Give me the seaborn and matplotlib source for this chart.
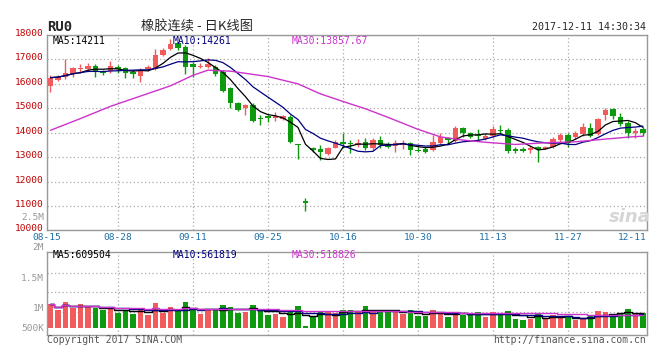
import matplotlib
matplotlib.use("Agg")
import matplotlib.pyplot as plt
import matplotlib.transforms as mtransforms
import numpy as np
import pandas as pd
import seaborn as sns

# trading days 2017-08-15 .. 2017-12-11 (national day holiday removed)
days = pd.bdate_range("2017-08-15", "2017-12-11")
days = days[(days < "2017-10-02") | (days > "2017-10-06")]
dates = [d.strftime("%m-%d") for d in days]

opens = [15930, 16160, 16300, 16390, 16600, 16600, 16750, 16530, 16530, 16700,
         16640, 16500, 16320, 16600, 16600, 17180, 17430, 17660, 17520, 16800,
         16680, 16700, 16705, 16500, 15820, 15210, 15030, 15140, 14620, 14690,
         14590, 14580, 14660, 13530, 11220, 13370, 13340, 13120, 13390, 13640,
         13600, 13500, 13640, 13360, 13710, 13500, 13460, 13500, 13600, 13300,
         13320, 13300, 13570, 13770, 13680, 14180, 13980, 13910, 13730, 13870,
         14110, 14110, 13320, 13320, 13300, 13400, 13350, 13410, 13700, 13910,
         13810, 13950, 14180, 13950, 14730, 14970, 14630, 14390, 14000, 14140]
highs = [16365, 16380, 17020, 16700, 16800, 16840, 16800, 16570, 16940, 16770,
         16700, 16570, 16640, 16770, 17430, 17450, 17850, 17720, 17600, 16910,
         16840, 17050, 16770, 16560, 15860, 15270, 15170, 15210, 14730, 14730,
         14840, 14730, 14730, 13530, 11320, 13430, 13500, 13430, 13700, 13980,
         13710, 13730, 13770, 13770, 13870, 13640, 13700, 13700, 13640, 13430,
         13400, 13910, 13980, 13840, 14280, 14250, 14050, 14140, 13980, 14280,
         14320, 14180, 13400, 13400, 13460, 13460, 13460, 13840, 14000, 13980,
         14090, 14390, 14390, 14620, 15000, 15000, 14800, 14460, 14180, 14220]
lows = [15655, 16120, 16200, 16300, 16430, 16530, 16300, 16360, 16430, 16430,
        16230, 16230, 16090, 16530, 16570, 17150, 17390, 17390, 16400, 16300,
        16640, 16640, 16340, 15670, 15030, 14890, 14730, 14430, 14320, 14430,
        14490, 14540, 13600, 12930, 10780, 13230, 12890, 13090, 13370, 13360,
        13160, 13430, 13300, 13300, 13360, 13360, 13230, 13320, 13090, 13230,
        13160, 13270, 13540, 13540, 13640, 13840, 13770, 13710, 13710, 13770,
        14000, 13190, 13190, 13230, 13160, 12820, 13320, 13360, 13640, 13410,
        13730, 13870, 13840, 13910, 14520, 14550, 14280, 13770, 13770, 13870]
closes = [16255, 16300, 16460, 16640, 16640, 16750, 16530, 16430, 16750, 16600,
          16430, 16390, 16570, 16670, 17180, 17390, 17620, 17450, 16700, 16680,
          16750, 16800, 16390, 15710, 15210, 14930, 15140, 14480, 14560, 14590,
          14690, 14700, 13610, 13500, 11140, 13300, 13200, 13390, 13610, 13540,
          13540, 13600, 13360, 13710, 13500, 13430, 13570, 13600, 13300, 13260,
          13230, 13640, 13840, 13700, 14180, 13980, 13840, 13880, 13870, 14140,
          14070, 13270, 13270, 13270, 13360, 13320, 13430, 13730, 13910, 13600,
          14000, 14250, 13870, 14550, 14930, 14700, 14350, 13980, 14090, 13980]
# volume in thousands
volume = [951, 710, 1032, 777, 951, 817, 777, 710, 737, 603,
          710, 549, 791, 509, 992, 603, 817, 710, 1032, 710,
          549, 710, 710, 911, 817, 603, 643, 911, 657, 509,
          549, 429, 643, 871, 67, 442, 683, 670, 603, 710,
          710, 630, 871, 630, 710, 657, 643, 549, 710, 469,
          469, 710, 603, 442, 630, 509, 509, 630, 442, 630,
          509, 683, 348, 308, 348, 603, 375, 509, 415, 415,
          308, 362, 509, 670, 630, 509, 603, 750, 549, 603]

# MA30 (needs history before the window)
ma30_idx = [0, 4, 8, 12, 16, 19, 21, 24, 29, 33, 36, 39, 42, 45, 49, 52, 55, 58, 62, 66, 70, 74, 77, 79]
ma30_val = [14100, 14580, 15080, 15500, 15920, 16350, 16560, 16520, 16300, 16000, 15590, 15280,
            14980, 14630, 14140, 13830, 13700, 13610, 13520, 13590, 13630, 13740, 13820, 13860]

tick_dates = ["08-15", "08-28", "09-11", "09-25", "10-16", "10-30", "11-13", "11-27", "12-11"]

UP = "#f25b5b"
DOWN = "#0e9a0e"
GRID = "#aaaaaa"
BORDER = "#999999"

sns.set_style("white")
plt.rcParams["font.family"] = ["DejaVu Sans Mono"]

df = pd.DataFrame({"o": opens, "h": highs, "l": lows, "c": closes, "v": volume})
df["i"] = np.arange(len(df))
df["ma5"] = df["c"].rolling(5, min_periods=1).mean()
df["ma10"] = df["c"].rolling(10, min_periods=1).mean()
df["vma5"] = df["v"].rolling(5, min_periods=1).mean()
df["vma10"] = df["v"].rolling(10, min_periods=1).mean()
df["vma30"] = df["v"].rolling(30, min_periods=1).mean()
colors = np.where(df["c"] >= df["o"], UP, DOWN)

fig = plt.figure(figsize=(6.61, 3.52), dpi=100)
ax = fig.add_axes([0.0707, 0.3452, 0.9077, 0.5554])
axv = fig.add_axes([0.0707, 0.0483, 0.9077, 0.2358])

# candles
ax.vlines(df["i"], df["l"], df["h"], colors=colors, lw=1, zorder=2)
body_lo = np.minimum(df["o"], df["c"])
body_h = np.maximum(np.abs(df["c"] - df["o"]), 30)
ax.bar(df["i"], body_h, bottom=body_lo, width=0.78, color=colors, linewidth=0, zorder=3)

sns.lineplot(data=df, x="i", y="ma5", ax=ax, color="black", lw=0.9, legend=False, zorder=4)
sns.lineplot(data=df, x="i", y="ma10", ax=ax, color="#000080", lw=0.9, legend=False, zorder=4)
sns.lineplot(x=ma30_idx, y=ma30_val, ax=ax, color="#cc33cc", lw=1.0, legend=False, zorder=4)

# volume
axv.bar(df["i"], df["v"], width=0.78, color=colors, linewidth=0, zorder=2)
sns.lineplot(data=df, x="i", y="vma5", ax=axv, color="black", lw=1.0, drawstyle="steps-mid", legend=False, zorder=3)
sns.lineplot(data=df, x="i", y="vma10", ax=axv, color="#000080", lw=1.0, drawstyle="steps-mid", legend=False, zorder=3)
sns.lineplot(data=df, x="i", y="vma30", ax=axv, color="#cc33cc", lw=1.0, drawstyle="steps-mid", legend=False, zorder=3)

tick_pos = [float(dates.index(d)) for d in tick_dates]
tick_pos[0] -= 0.5
tick_pos[-1] += 0.5

for a in (ax, axv):
    a.set_xlim(-0.5, len(df) - 0.5)
    a.set_xticks(tick_pos)
    a.set_xlabel("")
    a.set_ylabel("")
    a.tick_params(length=0)
    for s in a.spines.values():
        s.set_color(BORDER)
        s.set_linewidth(1)
    a.grid(True, axis="x", color=GRID, linestyle=(0, (1, 2)), lw=0.9)

ax.set_ylim(10000, 18000)
ax.set_yticks(range(10000, 18001, 1000))
ax.grid(True, axis="y", color=GRID, linestyle=(0, (1, 2)), lw=0.9)
ax.tick_params(axis="y", labelsize=6.8, labelcolor="#c00000", pad=2)
# price labels sit a little above their grid lines
up_shift = mtransforms.ScaledTranslation(0, 2.5 / 100, fig.dpi_scale_trans)
for lab in ax.get_yticklabels():
    lab.set_transform(lab.get_transform() + up_shift)
ax.set_xticklabels(tick_dates)
ax.tick_params(axis="x", labelsize=6.8, labelcolor="#1f6fa5", pad=2)
xl = ax.get_xticklabels()
xl[-1].set_ha("right")

axv.set_ylim(-293, 3043)
axv.set_yticks([0, 832, 2038])
axv.set_yticklabels(["500K", "1M", "1.5M"])
axv.tick_params(axis="y", labelsize=6.8, labelcolor=BORDER, pad=2)
axv.set_xticklabels([])
for y in [619, 1423, 2211]:
    axv.axhline(y, color=GRID, linestyle=(0, (1, 2)), lw=0.9, zorder=1)

# texts
fig.text(47 / 661, 1 - 27 / 352, "RU0", fontsize=10, fontweight="bold", va="center", ha="left")
fig.text(197 / 661, 1 - 27 / 352, "橡胶连续 - 日K线图", fontsize=9.5, va="center", ha="center",
         family=["Noto Sans CJK SC", "DejaVu Sans"])
fig.text(646 / 661, 1 - 27 / 352, "2017-12-11 14:30:34", fontsize=7.2, va="center", ha="right")
fig.text(44 / 661, 1 - 217 / 352, "2.5M", fontsize=6.8, va="center", ha="right", color=BORDER)
fig.text(44 / 661, 1 - 247 / 352, "2M", fontsize=6.8, va="center", ha="right", color=BORDER)
fig.text(47 / 661, 1 - 340 / 352, "Copyright 2017 SINA.COM", fontsize=7, va="center", ha="left", color="#555555")
fig.text(646 / 661, 1 - 340 / 352, "http://finance.sina.com.cn", fontsize=7, va="center", ha="right", color="#555555")
fig.text(630 / 661, 1 - 217 / 352, "sina", fontsize=13, va="center", ha="center", color="#d6d6d6",
         style="italic", fontweight="bold", family=["DejaVu Sans"])

ax.text(0.009, 0.971, "MA5:14211", transform=ax.transAxes, fontsize=7, va="center", color="black")
ax.text(0.209, 0.971, "MA10:14261", transform=ax.transAxes, fontsize=7, va="center", color="#000080")
ax.text(0.408, 0.971, "MA30:13857.67", transform=ax.transAxes, fontsize=7, va="center", color="#cc33cc")
axv.text(0.009, 0.964, "MA5:609504", transform=axv.transAxes, fontsize=7, va="center", color="black")
axv.text(0.209, 0.964, "MA10:561819", transform=axv.transAxes, fontsize=7, va="center", color="#000080")
axv.text(0.408, 0.964, "MA30:518826", transform=axv.transAxes, fontsize=7, va="center", color="#cc33cc")

fig.savefig("out.png", dpi=100)
